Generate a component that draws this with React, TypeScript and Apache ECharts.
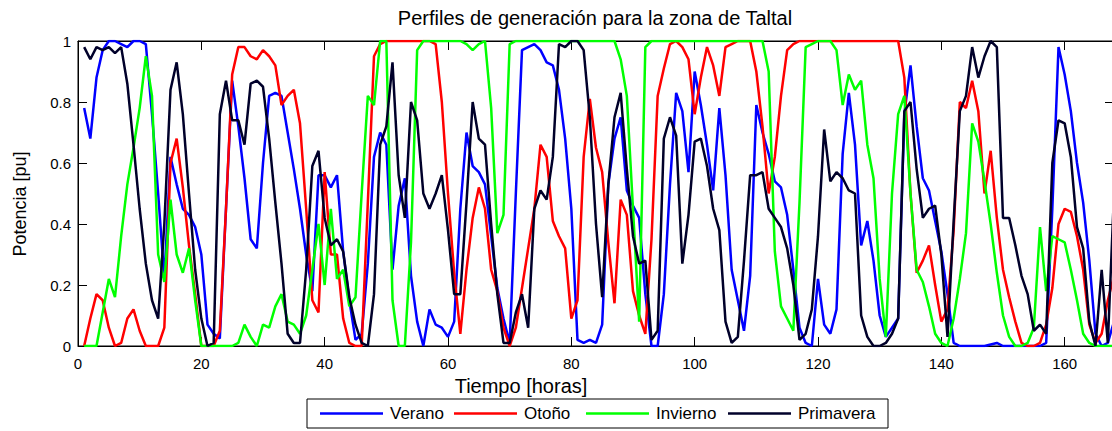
import React, { useEffect, useRef } from "react";
import * as echarts from "echarts";

// Hourly generation profiles (pu) for the Taltal zone, one week (hours 1..168)
const hours: number[] = Array.from({ length: 168 }, (_, i) => i + 1);

const verano: number[] = [
  0.78, 0.68, 0.88, 0.97, 1.0, 1.0, 0.99, 0.98, 1.0, 1.0,
  0.99, 0.76, 0.5, 0.22, 0.62, 0.53, 0.45, 0.43, 0.39, 0.3,
  0.07, 0.04, 0.025, 0.45, 0.87, 0.72, 0.55, 0.35, 0.32, 0.6,
  0.82, 0.83, 0.82, 0.7, 0.58, 0.45, 0.3, 0.18, 0.56, 0.56,
  0.52, 0.56, 0.31, 0.15, 0.02, 0.04, 0.27, 0.62, 0.7, 0.66,
  0.25, 0.46, 0.55, 0.23, 0.08, 0.0, 0.12, 0.07, 0.06, 0.03,
  0.08, 0.45, 0.7, 0.59, 0.57, 0.53, 0.36, 0.19, 0.09, 0.01,
  0.5, 0.97, 0.98, 0.99, 0.97, 0.93, 0.92, 0.84, 0.68, 0.45,
  0.02, 0.01, 0.02, 0.01, 0.07, 0.53, 0.68, 0.75, 0.51, 0.46,
  0.42, 0.17, 0.0, 0.0, 0.17, 0.53, 0.83, 0.77, 0.57, 0.9,
  0.79, 0.66, 0.51, 0.78, 0.56, 0.25, 0.15, 0.05, 0.23, 0.79,
  0.7, 0.63, 0.54, 0.52, 0.43, 0.25, 0.06, 0.01, 0.0, 0.22,
  0.07, 0.04, 0.12, 0.63, 0.83, 0.66, 0.33, 0.41, 0.28, 0.1,
  0.03, 0.06, 0.09, 0.76, 0.92, 0.72, 0.55, 0.51, 0.41, 0.31,
  0.17, 0.01, 0.0, 0.0, 0.0, 0.0, 0.0, 0.005, 0.01, 0.0,
  0.0, 0.0, 0.0, 0.0, 0.0, 0.0, 0.01, 0.45, 0.98, 0.89,
  0.77, 0.6, 0.47, 0.28, 0.04, 0.0, 0.01, 0.08,
];

const otono: number[] = [
  0.0, 0.09, 0.17, 0.15, 0.06, 0.0, 0.01, 0.09, 0.12, 0.05,
  0.0, 0.0, 0.0, 0.06, 0.6, 0.68, 0.52, 0.33, 0.17, 0.0,
  0.0, 0.0, 0.05, 0.45, 0.89, 0.98, 0.98, 0.95, 0.94, 0.97,
  0.95, 0.92, 0.79, 0.82, 0.84, 0.73, 0.45, 0.15, 0.11, 0.57,
  0.3, 0.3, 0.09, 0.01, 0.0, 0.0, 0.47, 0.95, 0.99, 1.0,
  1.0, 1.0, 1.0, 1.0, 1.0, 1.0, 1.0, 0.99, 0.8, 0.5,
  0.24, 0.04, 0.25, 0.42, 0.52, 0.45, 0.25, 0.18, 0.06, 0.0,
  0.06, 0.19, 0.32, 0.45, 0.66, 0.62, 0.41, 0.36, 0.32, 0.09,
  0.15, 0.62, 0.81, 0.65, 0.57, 0.34, 0.14, 0.48, 0.43, 0.18,
  0.1, 0.04, 0.35, 0.82, 0.91, 0.99, 1.0, 0.98, 0.94, 0.76,
  0.88, 0.98, 0.92, 0.82, 0.98, 0.99, 1.0, 1.0, 1.0, 0.9,
  0.72, 0.5, 0.62, 0.82, 0.97, 0.99, 1.0, 1.0, 1.0, 1.0,
  1.0, 1.0, 1.0, 1.0, 1.0, 1.0, 1.0, 1.0, 1.0, 1.0,
  1.0, 1.0, 1.0, 0.88, 0.5, 0.24, 0.28, 0.33, 0.2, 0.08,
  0.12, 0.38, 0.8, 0.78, 0.87, 0.77, 0.5, 0.64, 0.42, 0.25,
  0.16, 0.08, 0.01, 0.0, 0.0, 0.01, 0.07, 0.19, 0.4, 0.45,
  0.44, 0.36, 0.25, 0.07, 0.01, 0.04, 0.15, 0.23,
];

const invierno: number[] = [
  0.0, 0.0, 0.0, 0.11, 0.22, 0.16, 0.36, 0.53, 0.65, 0.78,
  0.95, 0.82, 0.3, 0.21, 0.48, 0.3, 0.24, 0.32, 0.15, 0.0,
  0.0, 0.0, 0.0, 0.0, 0.0, 0.01, 0.07, 0.03, 0.0, 0.07,
  0.06, 0.13, 0.17, 0.08, 0.07, 0.04, 0.1, 0.25, 0.4, 0.2,
  0.45, 0.22, 0.25, 0.13, 0.16, 0.5, 0.82, 0.79, 1.0, 1.0,
  0.15, 0.0, 0.0, 0.34, 0.97, 1.0, 1.0, 1.0, 1.0, 1.0,
  1.0, 1.0, 0.99, 0.97, 0.99, 1.0, 0.78, 0.37, 0.43, 0.99,
  1.0, 1.0, 1.0, 1.0, 1.0, 1.0, 1.0, 1.0, 1.0, 1.0,
  1.0, 1.0, 1.0, 1.0, 1.0, 1.0, 1.0, 0.94, 0.82, 0.45,
  0.08, 0.98, 1.0, 1.0, 1.0, 1.0, 1.0, 1.0, 1.0, 1.0,
  1.0, 1.0, 1.0, 1.0, 1.0, 1.0, 1.0, 1.0, 1.0, 1.0,
  1.0, 0.9, 0.31, 0.13, 0.09, 0.05, 0.47, 0.98, 0.99, 1.0,
  1.0, 1.0, 0.97, 0.79, 0.89, 0.84, 0.87, 0.66, 0.55, 0.22,
  0.03, 0.5, 0.76, 0.82, 0.5, 0.25, 0.21, 0.13, 0.04, 0.01,
  0.0, 0.09, 0.22, 0.37, 0.73, 0.67, 0.54, 0.4, 0.24, 0.1,
  0.03, 0.0, 0.0, 0.01, 0.06, 0.39, 0.18, 0.36, 0.35, 0.34,
  0.25, 0.15, 0.04, 0.01, 0.0, 0.0, 0.0, 0.0,
];

const primavera: number[] = [
  0.98, 0.94, 0.98, 0.97, 0.98, 0.96, 0.98, 0.86, 0.66, 0.45,
  0.27, 0.15, 0.09, 0.4, 0.84, 0.93, 0.76, 0.5, 0.25, 0.09,
  0.0, 0.01, 0.76, 0.87, 0.74, 0.74, 0.66, 0.86, 0.87, 0.85,
  0.68, 0.47, 0.27, 0.04, 0.01, 0.01, 0.25, 0.59, 0.64, 0.42,
  0.33, 0.35, 0.31, 0.16, 0.07, 0.01, 0.0, 0.17, 0.66, 0.72,
  0.93, 0.56, 0.42, 0.8, 0.74, 0.5, 0.45, 0.5, 0.56, 0.38,
  0.17, 0.17, 0.47, 0.8, 0.68, 0.66, 0.4, 0.17, 0.01, 0.01,
  0.11, 0.17, 0.06, 0.45, 0.51, 0.48, 0.62, 0.99, 0.98, 1.0,
  1.0, 0.97, 0.75, 0.4, 0.16, 0.53, 0.75, 0.83, 0.58, 0.36,
  0.27, 0.28, 0.02, 0.05, 0.68, 0.75, 0.69, 0.27, 0.43, 0.67,
  0.68, 0.59, 0.45, 0.38, 0.08, 0.01, 0.03, 0.28, 0.56, 0.56,
  0.57, 0.45, 0.42, 0.39, 0.32, 0.2, 0.02, 0.04, 0.12, 0.36,
  0.71, 0.54, 0.57, 0.55, 0.51, 0.5, 0.1, 0.03, 0.0, 0.0,
  0.01, 0.04, 0.09, 0.77, 0.8, 0.58, 0.42, 0.45, 0.46, 0.3,
  0.03, 0.41, 0.77, 0.82, 0.98, 0.88, 0.95, 1.0, 0.98, 0.42,
  0.42, 0.33, 0.23, 0.17, 0.05, 0.07, 0.04, 0.6, 0.74, 0.73,
  0.62, 0.39, 0.32, 0.08, 0.0, 0.25, 0.01, 0.5,
];

const seriesNames: string[] = ["Verano", "Otoño", "Invierno", "Primavera"];
const seriesValues: number[][] = [verano, otono, invierno, primavera];
const seriesColors: string[] = ["#0000ff", "#ff0000", "#00ff00", "#00002a"];

const xTicks: number[] = [0, 20, 40, 60, 80, 100, 120, 140, 160];
const yTicks: number[] = [0, 0.2, 0.4, 0.6, 0.8, 1];

const titleText = "Perfiles de generación para la zona de Taltal";
const xLabelText = "Tiempo [horas]";
const yLabelText = "Potencia [pu]";

const FONT = "'Liberation Sans', Arial, Helvetica, sans-serif";

// legend layout (left edge of each sample line)
const legendBox = { x: 307, y: 399, w: 581, h: 29 };
const legendLineX = [320, 454, 586, 728];
const legendLineLen = 63;

export default function App() {
  const ref = useRef<HTMLDivElement>(null);

  useEffect(() => {
    if (!ref.current) return;
    const chart = echarts.init(ref.current, null, { renderer: "svg" });

    const axisCommon = {
      type: "value" as const,
      axisLine: { show: true, onZero: false, lineStyle: { color: "#000", width: 1 } },
      splitLine: { show: false },
    };

    const xAxisBase = {
      ...axisCommon,
      min: 0,
      max: 168,
      interval: 20,
      axisTick: { show: true, inside: true, length: 9, customValues: xTicks, lineStyle: { color: "#000" } },
    };
    const yAxisBase = {
      ...axisCommon,
      min: 0,
      max: 1,
      interval: 0.2,
      axisTick: { show: true, inside: true, length: 9, customValues: yTicks, lineStyle: { color: "#000" } },
    };

    const legendItems: any[] = [];
    seriesNames.forEach((name, i) => {
      const lx = legendLineX[i];
      const cy = legendBox.y + legendBox.h / 2;
      legendItems.push({
        type: "line",
        shape: { x1: lx, y1: cy, x2: lx + legendLineLen, y2: cy },
        style: { stroke: seriesColors[i], lineWidth: 2.5 },
      });
      legendItems.push({
        type: "text",
        x: lx + legendLineLen + 7,
        y: cy,
        style: { text: name, fill: "#000", font: `17px ${FONT}`, textVerticalAlign: "middle", textAlign: "left" },
      });
    });

    chart.setOption({
      animation: false,
      backgroundColor: "#ffffff",
      grid: { left: 78, top: 41, width: 1036, height: 305, show: true, borderColor: "#000", borderWidth: 1, backgroundColor: "#fff" },
      xAxis: [
        {
          ...xAxisBase,
          position: "bottom",
          axisLabel: {
            show: true,
            color: "#000",
            fontSize: 15,
            fontFamily: FONT,
            margin: 10,
            customValues: xTicks,
            formatter: (v: number) => (v % 20 === 0 ? String(v) : ""),
          },
        },
        {
          ...xAxisBase,
          position: "top",
          axisLabel: { show: false },
        },
      ],
      yAxis: [
        {
          ...yAxisBase,
          position: "left",
          axisLabel: {
            show: true,
            color: "#000",
            fontSize: 15,
            fontFamily: FONT,
            margin: 7,
            customValues: yTicks,
          },
        },
        {
          ...yAxisBase,
          position: "right",
          axisLabel: { show: false },
        },
      ],
      series: seriesNames.map((name, i) => ({
        name,
        type: "line",
        xAxisIndex: 0,
        yAxisIndex: 0,
        data: hours.map((h, k) => [h, seriesValues[i][k]]),
        showSymbol: false,
        symbol: "none",
        clip: true,
        lineStyle: { color: seriesColors[i], width: 2.5 },
        itemStyle: { color: seriesColors[i] },
      })),
      graphic: [
        {
          type: "text",
          x: 595,
          y: 18,
          style: { text: titleText, fill: "#000", font: `20px ${FONT}`, textAlign: "center", textVerticalAlign: "middle" },
        },
        {
          type: "text",
          x: 521,
          y: 386,
          style: { text: xLabelText, fill: "#000", font: `20px ${FONT}`, textAlign: "center", textVerticalAlign: "middle" },
        },
        {
          type: "text",
          x: 20,
          y: 204,
          rotation: Math.PI / 2,
          style: { text: yLabelText, fill: "#000", font: `18px ${FONT}`, textAlign: "center", textVerticalAlign: "middle" },
        },
        {
          type: "rect",
          shape: { x: legendBox.x, y: legendBox.y, width: legendBox.w, height: legendBox.h },
          style: { fill: "#fff", stroke: "#000", lineWidth: 1 },
        },
        ...legendItems,
      ],
    });

    return () => chart.dispose();
  }, []);

  return (
    <div style={{ position: "fixed", left: 0, top: 0, width: 1112, height: 431, overflow: "hidden", background: "#fff" }}>
      <div ref={ref} style={{ width: 1116, height: 431 }} />
    </div>
  );
}
